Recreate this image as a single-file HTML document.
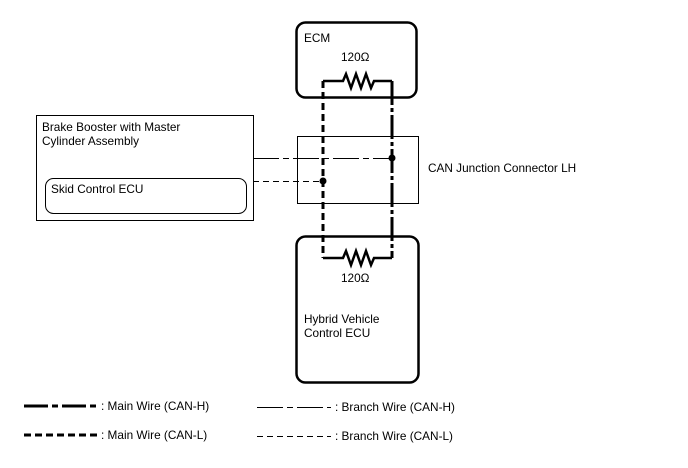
<!DOCTYPE html>
<html><head><style>
body{margin:0;background:#fff;}
svg text{font-family:"Liberation Sans",sans-serif;font-size:11.8px;fill:#000;}
</style></head><body>
<svg width="688" height="463" xmlns="http://www.w3.org/2000/svg">
<rect x="296.5" y="22.5" width="120" height="75" rx="9" fill="none" stroke="#000" stroke-width="2.5"/>
<rect x="296.5" y="236.5" width="122" height="146" rx="9" fill="none" stroke="#000" stroke-width="2.5"/>
<rect x="297.5" y="136.5" width="121" height="67" fill="none" stroke="#000" stroke-width="1"/>
<rect x="36.5" y="115.5" width="217" height="105" fill="none" stroke="#000" stroke-width="1"/>
<rect x="45.5" y="178.5" width="201" height="35" rx="8" fill="none" stroke="#000" stroke-width="1"/>
<text x="304" y="42">ECM</text>
<text x="341" y="61">120Ω</text>
<text x="341" y="282">120Ω</text>
<text x="304" y="323">Hybrid Vehicle</text>
<text x="304" y="337">Control ECU</text>
<text x="42" y="131">Brake Booster with Master</text>
<text x="42" y="145">Cylinder Assembly</text>
<text x="51" y="193">Skid Control ECU</text>
<text x="428" y="172">CAN Junction Connector LH</text>
<path d="M323 81 H343 L346 74 L351 88 L356 74 L361 88 L366 74 L371 88 L374 81 H392" fill="none" stroke="#000" stroke-width="2.5"/>
<path d="M323 258 H343 L346 251 L351 265 L356 251 L361 265 L366 251 L371 265 L374 258 H392" fill="none" stroke="#000" stroke-width="2.5"/>
<line x1="323" y1="81" x2="323" y2="258" stroke="#000" stroke-width="3" stroke-dasharray="7,4"/>
<line x1="392" y1="81" x2="392" y2="258" stroke="#000" stroke-width="3" stroke-dasharray="24,3,4,3"/>
<line x1="253" y1="158.5" x2="392" y2="158.5" stroke="#000" stroke-width="1" stroke-dasharray="26,4,6,4"/>
<line x1="253" y1="181.5" x2="323" y2="181.5" stroke="#000" stroke-width="1" stroke-dasharray="6,4"/>
<circle cx="392" cy="158" r="3.5"/>
<circle cx="323" cy="181" r="3.5"/>
<line x1="24" y1="406" x2="98" y2="406" stroke="#000" stroke-width="3" stroke-dasharray="24,4,6,4"/>
<text x="101" y="410">: Main Wire (CAN-H)</text>
<line x1="24" y1="435" x2="98" y2="435" stroke="#000" stroke-width="3" stroke-dasharray="7,4"/>
<text x="101" y="439">: Main Wire (CAN-L)</text>
<line x1="257" y1="407.5" x2="331" y2="407.5" stroke="#000" stroke-width="1" stroke-dasharray="26,4,6,4"/>
<text x="335" y="411">: Branch Wire (CAN-H)</text>
<line x1="257" y1="436.5" x2="331" y2="436.5" stroke="#000" stroke-width="1" stroke-dasharray="6,4"/>
<text x="335" y="440">: Branch Wire (CAN-L)</text>
</svg>
</body></html>
